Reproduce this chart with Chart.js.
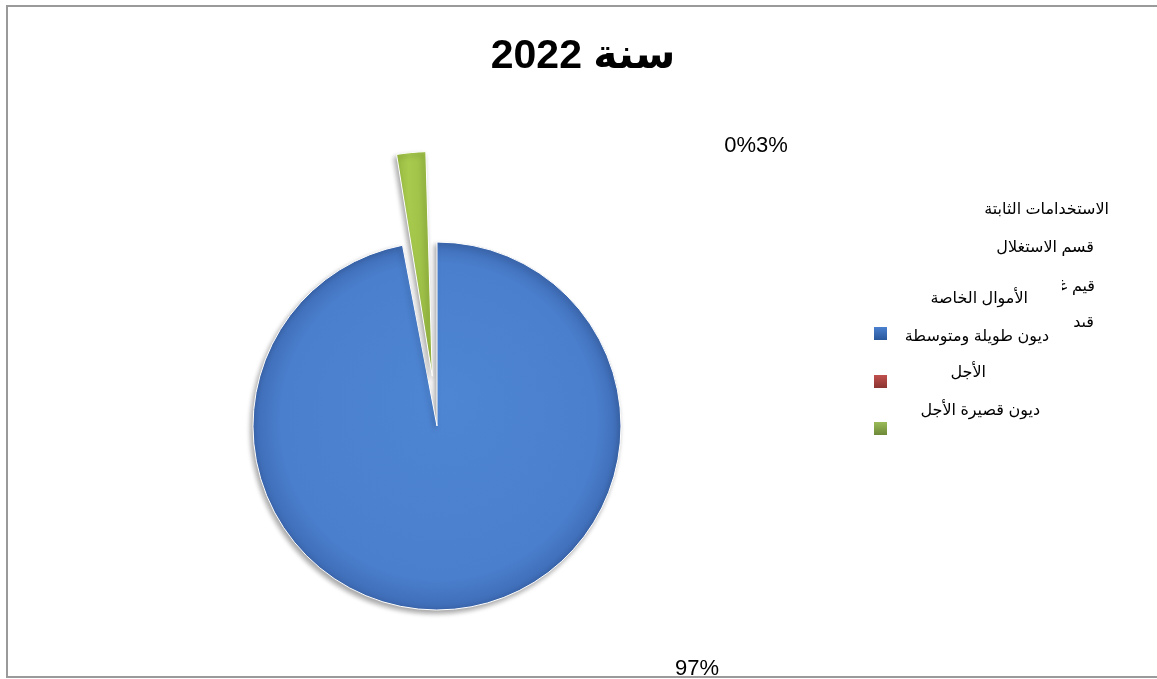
<!DOCTYPE html>
<html>
<head>
<meta charset="utf-8">
<script src="https://cdn.jsdelivr.net/npm/chart.js@4/dist/chart.umd.min.js"></script>
<style>
    body { margin: 0; background: #fff; }
    canvas { display: block; }
</style>
</head>
<body>
<canvas id="chart-pie" width="1157" height="679"></canvas>
<script>
// data
var chartTitle = 'سنة 2022';
var categories = ['الأموال الخاصة', 'ديون طويلة ومتوسطة الأجل', 'ديون قصيرة الأجل'];
var values = [97, 0, 3];
var colours = ['#4a80cf', '#c0504d', '#9bbb59'];
// leftover legend text that shows behind the real legend
var oldLabels = ['الاستخدامات الثابتة', 'قسم الاستغلال', 'قيم غير', 'قيد'];

var FONT = 'Arial, "DejaVu Sans", sans-serif';

function pct(i) {
    var total = values.reduce(function(a, b) { return a + b; }, 0);
    return Math.round(values[i] / total * 100) + '%';
}

function fillFor(ctx) {
    var chart = ctx.chart;
    var area = chart.chartArea;
    if (!area) return colours[ctx.dataIndex];
    var c = chart.ctx;
    var cx = (area.left + area.right) / 2;
    var cy = (area.top + area.bottom) / 2;
    if (ctx.dataIndex == 0) {
        var g = c.createRadialGradient(cx + 10, cy - 30, 0, cx, cy, 186);
        g.addColorStop(0, '#4e86d4');
        g.addColorStop(0.85, '#4a7fcd');
        g.addColorStop(0.96, '#4170bb');
        g.addColorStop(1, '#3863a9');
        return g;
    }
    if (ctx.dataIndex == 2) {
        var g2 = c.createLinearGradient(395, 0, 432, 0);
        g2.addColorStop(0, '#8fb13a');
        g2.addColorStop(0.5, '#a8cb4e');
        g2.addColorStop(1, '#9bbd45');
        return g2;
    }
    return colours[ctx.dataIndex];
}

var decorPlugin = {
    id: 'decor',
    beforeDatasetsDraw: function(chart) {
        var c = chart.ctx;
        c.save();
        c.shadowColor = 'rgba(0,0,0,0.35)';
        c.shadowBlur = 5;
        c.shadowOffsetX = -2;
        c.shadowOffsetY = 3;
    },
    afterDatasetsDraw: function(chart) {
        chart.ctx.restore();
    },
    afterDraw: function(chart) {
        var c = chart.ctx;
        c.save();
        c.fillStyle = '#000';
        c.textBaseline = 'middle';

        // title
        c.direction = 'rtl';
        c.textAlign = 'center';
        c.font = 'bold 41px ' + FONT;
        c.fillText(chartTitle, 583, 57);

        // old legend remains
        c.font = '16px ' + FONT;
        c.textAlign = 'right';
        c.fillText(oldLabels[0], 1109, 210);
        c.fillText(oldLabels[1], 1094, 248);
        c.save();
        c.beginPath();
        c.rect(1062, 270, 60, 34);
        c.clip();
        c.fillText(oldLabels[2], 1095, 287);
        c.restore();
        c.save();
        c.beginPath();
        c.rect(1062, 310, 60, 18);
        c.clip();
        c.fillText(oldLabels[3], 1094, 323);
        c.restore();

        // legend
        var lines = [
            [categories[0], 1028, 299],
            ['ديون طويلة ومتوسطة', 1049, 337],
            ['الأجل', 986, 373],
            [categories[2], 1040, 411]
        ];
        lines.forEach(function(l) { c.fillText(l[0], l[1], l[2]); });
        var boxY = [327, 375, 422];
        boxY.forEach(function(y, i) {
            var g = c.createLinearGradient(0, y, 0, y + 13);
            g.addColorStop(0, colours[i]);
            g.addColorStop(1, Chart.helpers.color(colours[i]).darken(0.3).hexString());
            c.fillStyle = g;
            c.fillRect(874, y, 13, 13);
        });

        // data labels
        c.direction = 'ltr';
        c.fillStyle = '#000';
        c.font = '22px ' + FONT;
        c.textAlign = 'right';
        c.fillText(pct(1), 756, 146);
        c.textAlign = 'left';
        c.fillText(pct(2), 756, 146);
        c.textAlign = 'center';
        c.fillText(pct(0), 697, 669);

        // frame
        c.fillStyle = '#fff';
        c.fillRect(0, 678, 1157, 1);
        c.strokeStyle = '#9a9a9a';
        c.lineWidth = 2;
        c.strokeRect(7, 6, 1160, 671);
        c.restore();
    }
};

var PIE = document.getElementById('chart-pie');
var pieChart = new Chart(PIE, {
    type: 'pie',
    data: {
        labels: categories,
        datasets: [{
            data: values,
            backgroundColor: fillFor,
            borderColor: '#ffffff',
            borderWidth: 1,
            offset: [0, 0, 200]
        }]
    },
    options: {
        responsive: false,
        animation: false,
        radius: 184,
        rotation: 0,
        layout: {
            padding: { left: 150, right: 433, top: 180, bottom: 7 }
        },
        plugins: {
            legend: { display: false },
            title: { display: false },
            tooltip: { enabled: false }
        }
    },
    plugins: [decorPlugin]
});
</script>
</body>
</html>
